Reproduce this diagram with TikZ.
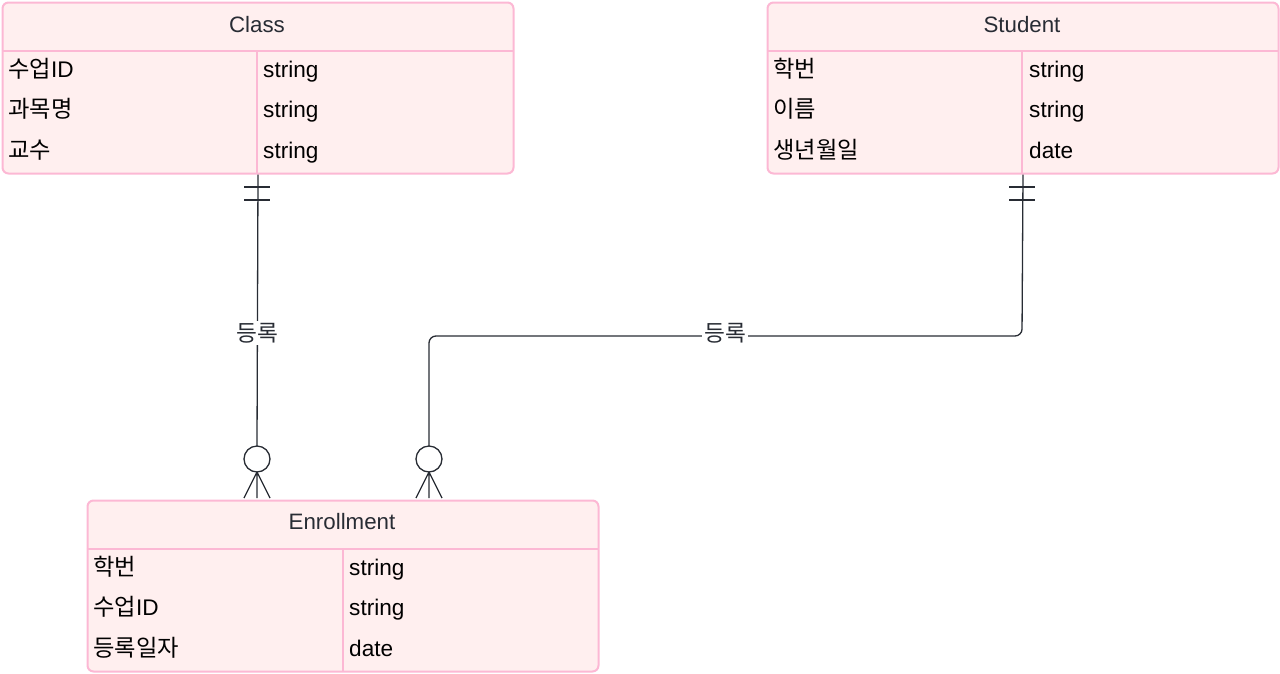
\documentclass[tikz,border=0pt]{standalone}
\usepackage{fontspec}
\setmainfont{Liberation Sans}
\newfontfamily\kr[Scale=1.03]{Noto Sans CJK KR}
\definecolor{pinkb}{RGB}{252,184,212}
\definecolor{pinkf}{RGB}{255,239,239}
\definecolor{ink}{RGB}{40,44,52}
\begin{document}
\begin{tikzpicture}[x=1pt,y=-1pt,
  tbl/.style={draw=pinkb, fill=pinkf, line width=2pt, rounded corners=6pt, minimum width=511pt, minimum height=171pt, anchor=north west, inner sep=0pt},
  sep/.style={draw=pinkb, line width=2pt},
  hdr/.style={anchor=base, inner sep=0pt, text=ink, font=\fontsize{22.3}{26}\selectfont},
  cell/.style={anchor=base west, inner sep=0pt, text=black, font=\fontsize{22.6}{27}\selectfont},
  conn/.style={draw=ink, line width=1.3pt},
  lbl/.style={fill=white, inner sep=2pt, text=ink, font=\kr\fontsize{22}{26}\selectfont}
]
\useasboundingbox (0,0) rectangle (1280,673);
% ---- Class
\node[tbl] (class) at (1.5,1.5) {};
\draw[sep] (1.5,51) -- (512.5,51);
\draw[sep] (257,51) -- (257,172.5);
\node[hdr] (classT) at (257,32) {Class};
\node[cell] (c1a) at (8,77) {{\kr 수업}ID};
\node[cell] (c2a) at (8,117) {\kr 과목명};
\node[cell] (c3a) at (8,158) {\kr 교수};
\node[cell] (c1b) at (263,77) {string};
\node[cell] (c2b) at (263,117) {string};
\node[cell] (c3b) at (263,158) {string};
% ---- Student
\node[tbl] (student) at (766.5,1.5) {};
\draw[sep] (766.5,51) -- (1277.5,51);
\draw[sep] (1022,51) -- (1022,172.5);
\node[hdr] (studentT) at (1022,32) {Student};
\node[cell] (s1a) at (773,77) {\kr 학번};
\node[cell] (s2a) at (773,117) {\kr 이름};
\node[cell] (s3a) at (773,158) {\kr 생년월일};
\node[cell] (s1b) at (1029,77) {string};
\node[cell] (s2b) at (1029,117) {string};
\node[cell] (s3b) at (1029,158) {date};
% ---- Enrollment
\node[tbl] (enroll) at (86.5,499.5) {};
\draw[sep] (86.5,549) -- (597.5,549);
\draw[sep] (343,549) -- (343,670.5);
\node[hdr] (enrollT) at (342,529) {Enrollment};
\node[cell] (e1a) at (93,575) {\kr 학번};
\node[cell] (e2a) at (93,615) {{\kr 수업}ID};
\node[cell] (e3a) at (93,656) {\kr 등록일자};
\node[cell] (e1b) at (349,575) {string};
\node[cell] (e2b) at (349,615) {string};
\node[cell] (e3b) at (349,656) {date};
% ---- connector points
\coordinate (cA) at (257,446);
\coordinate (cB) at (429,446);
\coordinate (corner1) at (1022,336);
\coordinate (corner2) at (429,336);
% ---- Class -- Enrollment
\draw[conn] (class.south) -- (cA);
\draw[conn] (244,187) -- (270,187);
\draw[conn] (244,200) -- (270,200);
\draw[conn] (257,459) circle (13);
\draw[conn] (257,472) -- (244,498) (257,472) -- (257,498) (257,472) -- (270,498);
\node[lbl] (l1) at (257,333) {등록};
% ---- Student -- Enrollment
\draw[conn, rounded corners=7pt] (student.south) -- (corner1) -- (corner2) -- (cB);
\draw[conn] (1009,187) -- (1035,187);
\draw[conn] (1009,200) -- (1035,200);
\draw[conn] (429,459) circle (13);
\draw[conn] (429,472) -- (416,498) (429,472) -- (429,498) (429,472) -- (442,498);
\node[lbl] (l2) at (725,333) {등록};
\end{tikzpicture}
\end{document}
